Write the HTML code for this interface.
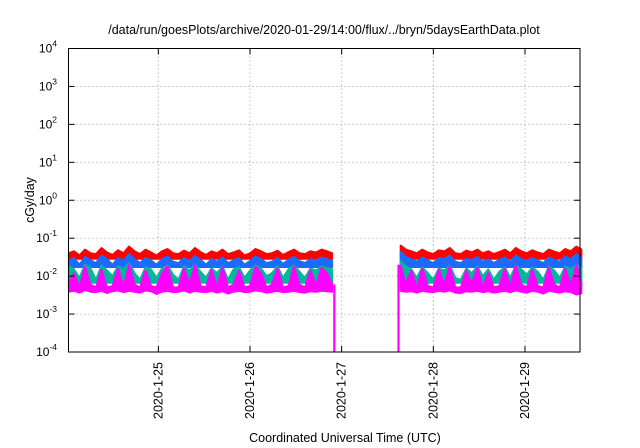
<!DOCTYPE html>
<html><head><meta charset="utf-8"><style>
body{margin:0;background:#fff;}
svg{display:block;font-family:"Liberation Sans",sans-serif;}
</style></head><body>
<svg id="chart" width="640" height="448" viewBox="0 0 640 448">
<rect width="640" height="448" fill="#fff"/>
<text x="324" y="34" font-size="12.5" text-anchor="middle">/data/run/goesPlots/archive/2020-01-29/14:00/flux/../bryn/5daysEarthData.plot</text>
<text transform="translate(34,200) rotate(-90)" font-size="12.5" text-anchor="middle">cGy/day</text>
<text x="345" y="442" font-size="12.5" text-anchor="middle">Coordinated Universal Time (UTC)</text>
<g id="grid"></g><g id="series"></g><g id="axes"></g>
</svg>
<script>
const yExps=[-4,-3,-2,-1,0,1,2,3,4];
const xTickDays=[25,26,27,28,29];
const xTickLabels=["2020-1-25","2020-1-26","2020-1-27","2020-1-28","2020-1-29"];
const seg1Start=24.02, seg2Start=27.64, stepDays=0.06;
const gapEdges=[26.92,27.62];
const red1=[0.04,0.045,0.035,0.05,0.04,0.038,0.055,0.042,0.036,0.048,0.04,0.06,0.045,0.038,0.05,0.042,0.035,0.045,0.052,0.04,0.038,0.047,0.04,0.055,0.043,0.036,0.045,0.04,0.05,0.038,0.042,0.048,0.035,0.04,0.052,0.045,0.038,0.04,0.047,0.036,0.043,0.05,0.04,0.038,0.045,0.042,0.05,0.045,0.04];
const red2=[0.065,0.05,0.045,0.04,0.05,0.042,0.038,0.048,0.045,0.055,0.04,0.038,0.047,0.042,0.05,0.04,0.045,0.038,0.043,0.05,0.04,0.055,0.045,0.04,0.048,0.042,0.038,0.05,0.044,0.04,0.052,0.045,0.06,0.05];
const blue1=[0.025,0.03,0.02,0.032,0.026,0.022,0.035,0.028,0.02,0.03,0.025,0.038,0.028,0.022,0.03,0.026,0.02,0.028,0.033,0.024,0.022,0.03,0.025,0.034,0.027,0.02,0.028,0.024,0.031,0.022,0.026,0.03,0.02,0.025,0.033,0.028,0.022,0.024,0.03,0.021,0.027,0.032,0.025,0.022,0.028,0.026,0.031,0.028,0.025];
const blue2=[0.045,0.032,0.028,0.024,0.031,0.026,0.022,0.03,0.028,0.035,0.024,0.022,0.029,0.026,0.032,0.024,0.028,0.022,0.027,0.031,0.024,0.035,0.028,0.025,0.03,0.026,0.022,0.031,0.027,0.024,0.033,0.028,0.038,0.03];
const teal1=[0.018,0.015,0.009,0.02,0.016,0.008,0.019,0.014,0.01,0.018,0.015,0.022,0.012,0.008,0.017,0.015,0.009,0.016,0.019,0.011,0.008,0.018,0.014,0.02,0.013,0.009,0.016,0.012,0.018,0.008,0.015,0.017,0.009,0.014,0.019,0.016,0.01,0.012,0.018,0.009,0.015,0.019,0.013,0.009,0.016,0.014,0.018,0.016,0.015];
const teal2=[0.025,0.018,0.015,0.009,0.017,0.012,0.008,0.016,0.014,0.019,0.009,0.008,0.016,0.012,0.018,0.01,0.015,0.008,0.013,0.017,0.009,0.019,0.015,0.011,0.017,0.013,0.008,0.018,0.014,0.009,0.018,0.015,0.02,0.016];
const mag1=[0.006,0.012,0.005,0.018,0.006,0.005,0.015,0.005,0.0055,0.016,0.005,0.02,0.006,0.005,0.014,0.0055,0.005,0.012,0.018,0.005,0.005,0.016,0.006,0.02,0.0055,0.005,0.015,0.005,0.017,0.005,0.006,0.014,0.005,0.0055,0.018,0.012,0.005,0.006,0.016,0.005,0.0055,0.018,0.006,0.005,0.014,0.0055,0.017,0.012,0.006];
const mag2=[0.02,0.006,0.014,0.005,0.016,0.0055,0.005,0.015,0.006,0.018,0.005,0.005,0.014,0.006,0.017,0.005,0.012,0.005,0.0055,0.016,0.005,0.019,0.006,0.005,0.015,0.0055,0.005,0.017,0.006,0.005,0.016,0.0055,0.02,0.006];
const magLow1=[0.0038,0.004,0.0036,0.0042,0.0038,0.0037,0.004,0.0035,0.0039,0.0041,0.0037,0.004,0.0038,0.0036,0.0041,0.0039,0.0033,0.0038,0.004,0.0037,0.0038,0.0041,0.0036,0.004,0.0038,0.0037,0.004,0.0036,0.0039,0.0034,0.0038,0.004,0.0037,0.0038,0.0041,0.0039,0.0036,0.0038,0.004,0.0037,0.0038,0.004,0.0037,0.0036,0.0039,0.0038,0.004,0.0039,0.0038];
const magLow2=[0.004,0.0038,0.0039,0.0036,0.004,0.0038,0.0037,0.004,0.0038,0.0041,0.0036,0.0035,0.0039,0.0038,0.004,0.0037,0.0039,0.0036,0.0038,0.004,0.0037,0.0041,0.0038,0.0036,0.004,0.0038,0.0034,0.004,0.0038,0.0036,0.0039,0.0037,0.0032,0.0035];
const L=68.5,R=580,T=48.5,B=352;
const xDay0=24.02, xDay1=29.6;
function xs(d){return L+(d-xDay0)/(xDay1-xDay0)*(R-L);}
function ys(v){return B-(Math.log10(v)+4)/8*(B-T);}
const NS="http://www.w3.org/2000/svg";
function mk(t,a,p){const e=document.createElementNS(NS,t);for(const k in a)e.setAttribute(k,a[k]);p.appendChild(e);return e;}
const grid=document.getElementById('grid'),axes=document.getElementById('axes'),ser=document.getElementById('series');
yExps.forEach(e=>{const y=ys(Math.pow(10,e));
 if(e>-4&&e<4){const g=mk('line',{x1:L,x2:R,y1:y,y2:y,stroke:'#bbb','stroke-dasharray':'1.5,2.5','stroke-width':1},grid);
 
 }
 const tl=mk('text',{x:57,y:y+4,'font-size':12,'text-anchor':'end'},axes);
 
 
 tl.textContent='10';
 const sp=mk('tspan',{dy:-6,'font-size':8.5},tl);sp.textContent=String(e);
 mk('line',{x1:L,x2:L+6,y1:y,y2:y,stroke:'#000'},axes);mk('line',{x1:R,x2:R-6,y1:y,y2:y,stroke:'#000'},axes);
});
xTickDays.forEach((d,i)=>{const x=xs(d);
 const g=mk('line',{x1:x,x2:x,y1:T,y2:B,stroke:'#bbb','stroke-dasharray':'1.5,2.5','stroke-width':1},grid);
 
 
 mk('line',{x1:x,x2:x,y1:B,y2:B-6,stroke:'#000'},axes);mk('line',{x1:x,x2:x,y1:T,y2:T+6,stroke:'#000'},axes);
 const tl=mk('text',{transform:`translate(${x+4},362) rotate(-90)`,'font-size':12.5,'text-anchor':'end'},axes);
 
 
 tl.textContent=xTickLabels[i];
});
const fr=mk('rect',{x:L,y:T,width:R-L,height:B-T,fill:'none',stroke:'#000','stroke-width':1},axes);


function fmt(p){return p.map(q=>q[0].toFixed(1)+','+q[1].toFixed(1)).join(' ');}
function band(top,low,start,lowConst){const p=[];top.forEach((v,i)=>p.push([xs(start+i*stepDays),ys(v)]));
 for(let i=top.length-1;i>=0;i--)p.push([xs(start+i*stepDays),ys(low?low[i]:lowConst)]);return fmt(p);}
function line(vals,start){return fmt(vals.map((v,i)=>[xs(start+i*stepDays),ys(v)]));}
const defs=[["red",'#ff0000',red1,red2,null,null,0.028],["blue",'#1a6cff',blue1,blue2,null,null,0.017],["teal",'#00b89a',teal1,teal2,null,null,0.0065],["magenta",'#ff00ff',mag1,mag2,magLow1,magLow2,null]];
defs.forEach(([n,c,a,b,la,lb,lc])=>{
 [[a,la,seg1Start,1],[b,lb,seg2Start,2]].forEach(([vals,low,st,k])=>{
  const pg=mk('polygon',{points:band(vals,low,st,lc),fill:c,stroke:c,'stroke-width':1.2,'stroke-linejoin':'round'},ser);
  
  
  const pl=mk('polyline',{points:line(vals,st),fill:'none',stroke:c,'stroke-width':2,'stroke-linejoin':'round'},ser);
  
  
 });
});
gapEdges.forEach((d,i)=>{const x=xs(d);const v=i===0?mag1[mag1.length-1]:mag2[0];
 const ln=mk('line',{x1:x,x2:x,y1:ys(v),y2:B,stroke:'#ff00ff','stroke-width':2.2},ser);
 
 
});
</script>
</body></html>
